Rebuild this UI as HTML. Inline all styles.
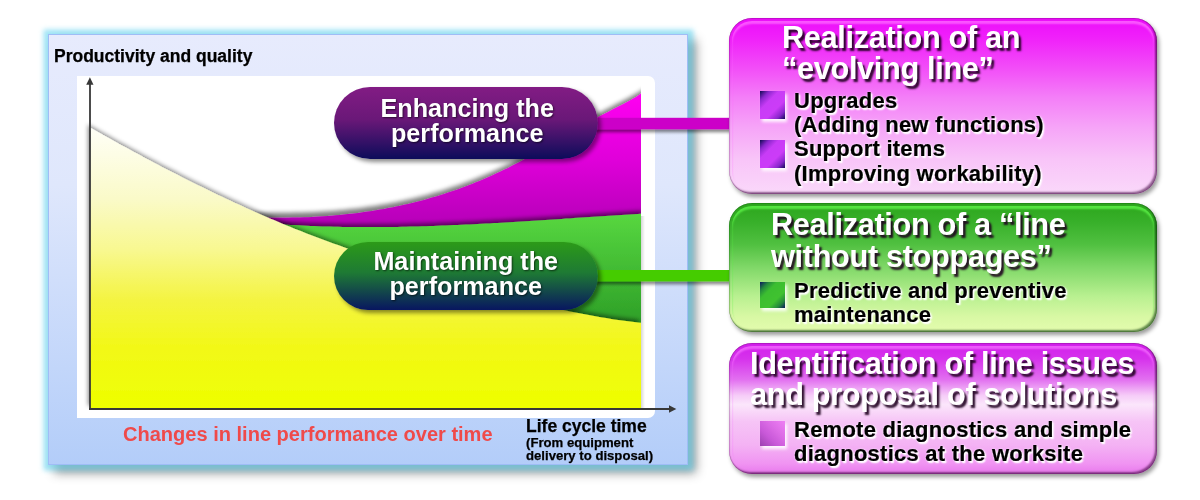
<!DOCTYPE html>
<html><head><meta charset="utf-8">
<style>
*{margin:0;padding:0;box-sizing:border-box}
html,body{width:1200px;height:500px;background:#fff;overflow:hidden}
body{position:relative;font-family:"Liberation Sans",sans-serif;font-weight:bold}
body>div{will-change:transform}
.abs{position:absolute}
#panel{left:48px;top:33.8px;width:640px;height:430.8px;border:1px solid #9fbdf6;
 background:linear-gradient(180deg,#e7ebfd 0%,#dfe7fc 35%,#b3cdf9 100%);
 box-shadow:0 0 5px 5.5px rgba(100,212,240,0.62),7px 7px 10px 1px rgba(0,0,0,0.42)}
#white{left:77px;top:75.7px;width:578px;height:342.4px;background:#fff;border-radius:0 7px 7px 0}
svg{position:absolute;left:0;top:0}
.pill{position:absolute;color:#fff;text-align:center;font-size:25.2px;line-height:25px;
 text-shadow:1px 1px 2px rgba(0,0,0,0.6);border-radius:36px;
 box-shadow:3px 3px 4px rgba(0,0,0,0.45)}
.box{position:absolute;left:728.5px;width:427.5px;border-radius:23px}
.box::after{content:"";position:absolute;left:3px;right:3px;top:3px;bottom:3px;border-radius:20px;box-shadow:inset 0 3px 2px var(--hl)}
.ttl{position:absolute;color:#fff;font-size:30.8px;line-height:30.8px;letter-spacing:-0.38px;white-space:nowrap;
 text-shadow:2.5px 2.5px 2px rgba(30,0,30,0.92)}
.itm{position:absolute;color:#000;font-size:22px;line-height:24px;letter-spacing:0.25px;white-space:nowrap;-webkit-text-stroke:0.2px #000;
 text-shadow:1.5px 1.5px 1.5px #fff,1px 1px 2.5px #fff,0 0 2px rgba(255,255,255,0.6)}
.blt{position:absolute;width:24.7px;height:27.9px;box-shadow:2px 3px 3px rgba(255,255,255,0.9)}
</style></head><body>
<div id="panel" class="abs"></div>
<div id="white" class="abs"></div>
<svg width="1200" height="500" viewBox="0 0 1200 500">
<defs>
 <linearGradient id="gy" x1="0" y1="126" x2="0" y2="408" gradientUnits="userSpaceOnUse">
  <stop offset="0" stop-color="#fffff8"/><stop offset="0.26" stop-color="#fafac8"/><stop offset="0.44" stop-color="#f8f890"/><stop offset="0.62" stop-color="#f4f440"/><stop offset="0.79" stop-color="#f2f816"/><stop offset="1" stop-color="#eeff00"/>
 </linearGradient>
 <linearGradient id="gm" x1="0" y1="93" x2="0" y2="225" gradientUnits="userSpaceOnUse">
  <stop offset="0" stop-color="#ff00f2"/><stop offset="0.5" stop-color="#e000da"/><stop offset="1" stop-color="#b600b8"/>
 </linearGradient>
 <linearGradient id="gg" x1="0" y1="212" x2="0" y2="322" gradientUnits="userSpaceOnUse">
  <stop offset="0" stop-color="#58d840"/><stop offset="1" stop-color="#2ea028"/>
 </linearGradient>
 <filter id="shM" x="-10%" y="-20%" width="120%" height="140%">
  <feGaussianBlur in="SourceAlpha" stdDeviation="2.2"/><feOffset dx="2.5" dy="-5" result="b"/>
  <feFlood flood-color="#000" flood-opacity="0.5"/><feComposite in2="b" operator="in"/>
  <feMerge><feMergeNode/><feMergeNode in="SourceGraphic"/></feMerge>
 </filter>
 <filter id="shY" x="-10%" y="-20%" width="120%" height="140%">
  <feGaussianBlur in="SourceAlpha" stdDeviation="2"/><feOffset dx="1" dy="-3.5" result="b"/>
  <feFlood flood-color="#000" flood-opacity="0.5"/><feComposite in2="b" operator="in"/>
  <feMerge><feMergeNode/><feMergeNode in="SourceGraphic"/></feMerge>
 </filter>
 <filter id="shYY" x="-10%" y="-20%" width="120%" height="140%">
  <feGaussianBlur in="SourceAlpha" stdDeviation="2"/><feOffset dx="-2.5" dy="-3.5" result="b"/>
  <feFlood flood-color="#000" flood-opacity="0.45"/><feComposite in2="b" operator="in"/>
  <feMerge><feMergeNode/><feMergeNode in="SourceGraphic"/></feMerge>
 </filter>
 <filter id="shB" x="-10%" y="-30%" width="130%" height="200%">
  <feGaussianBlur in="SourceAlpha" stdDeviation="1.5"/><feOffset dx="2" dy="3" result="b"/>
  <feFlood flood-color="#000" flood-opacity="0.45"/><feComposite in2="b" operator="in"/>
  <feMerge><feMergeNode/><feMergeNode in="SourceGraphic"/></feMerge>
 </filter>
<linearGradient id="rs" x1="0" x2="1" y1="0" y2="0"><stop offset="0" stop-color="#000" stop-opacity="0.16"/><stop offset="1" stop-color="#000" stop-opacity="0"/></linearGradient>
<clipPath id="plot"><rect x="78" y="70" width="563" height="339"/></clipPath>
</defs>
<g clip-path="url(#plot)">
<!-- magenta -->
<path filter="url(#shM)" fill="url(#gm)" d="M235,218 L255,217.9 L268.0,217.7 L272.0,217.8 L276.0,217.8 L280.0,217.8 L284.0,217.8 L288.0,217.7 L292.0,217.6 L296.0,217.6 L300.0,217.4 L304.0,217.3 L308.0,217.2 L312.0,217.0 L316.0,216.8 L320.0,216.5 L324.0,216.3 L328.0,216.0 L332.0,215.7 L336.0,215.3 L340.0,214.9 L344.0,214.5 L348.0,214.1 L352.0,213.7 L356.0,213.2 L360.0,212.7 L364.0,212.1 L368.0,211.5 L372.0,210.9 L376.0,210.3 L380.0,209.6 L384.0,208.9 L388.0,208.1 L392.0,207.4 L396.0,206.5 L400.0,205.7 L404.0,204.8 L408.0,203.9 L412.0,202.9 L416.0,201.9 L420.0,200.9 L424.0,199.9 L428.0,198.7 L432.0,197.6 L436.0,196.4 L440.0,195.2 L444.0,193.9 L448.0,192.6 L452.0,191.3 L456.0,189.9 L460.0,188.5 L464.0,187.0 L468.0,185.5 L472.0,183.9 L476.0,182.3 L480.0,180.7 L484.0,179.0 L488.0,177.2 L492.0,175.5 L496.0,173.6 L500.0,171.8 L504.0,169.8 L508.0,167.9 L512.0,165.8 L516.0,163.8 L520.0,161.7 L524.0,159.5 L528.0,157.3 L532.0,155.1 L536.0,152.8 L540.0,150.6 L544.0,148.3 L548.0,146.0 L552.0,143.6 L556.0,141.3 L560.0,139.0 L564.0,136.6 L568.0,134.3 L572.0,131.9 L576.0,129.6 L580.0,127.3 L584.0,125.0 L588.0,122.7 L592.0,120.5 L596.0,118.3 L600.0,116.1 L604.0,114.0 L608.0,111.9 L612.0,109.8 L616.0,107.8 L620.0,105.8 L624.0,103.7 L628.0,101.6 L632.0,99.3 L636.0,96.9 L640.0,94.3 L641.0,93.6 L641,330 L235,330 Z"/>
<!-- green -->
<path filter="url(#shY)" fill="url(#gg)" d="M245,223.4 L265,223.6 L278.0,224.1 L282.0,224.4 L286.0,224.6 L290.0,224.9 L294.0,225.1 L298.0,225.3 L302.0,225.5 L306.0,225.7 L310.0,225.9 L314.0,226.1 L318.0,226.2 L322.0,226.4 L326.0,226.5 L330.0,226.6 L334.0,226.7 L338.0,226.8 L342.0,226.9 L346.0,227.0 L350.0,227.0 L354.0,227.1 L358.0,227.1 L362.0,227.1 L366.0,227.1 L370.0,227.1 L374.0,227.1 L378.0,227.1 L382.0,227.1 L386.0,227.0 L390.0,227.0 L394.0,226.9 L398.0,226.9 L402.0,226.8 L406.0,226.7 L410.0,226.6 L414.0,226.5 L418.0,226.4 L422.0,226.3 L426.0,226.2 L430.0,226.1 L434.0,225.9 L438.0,225.8 L442.0,225.6 L446.0,225.5 L450.0,225.3 L454.0,225.1 L458.0,225.0 L462.0,224.8 L466.0,224.6 L470.0,224.4 L474.0,224.2 L478.0,224.0 L482.0,223.8 L486.0,223.6 L490.0,223.4 L494.0,223.1 L498.0,222.9 L502.0,222.7 L506.0,222.5 L510.0,222.2 L514.0,222.0 L518.0,221.7 L522.0,221.5 L526.0,221.2 L530.0,221.0 L534.0,220.7 L538.0,220.5 L542.0,220.2 L546.0,220.0 L550.0,219.7 L554.0,219.4 L558.0,219.2 L562.0,218.9 L566.0,218.6 L570.0,218.4 L574.0,218.1 L578.0,217.8 L582.0,217.6 L586.0,217.3 L590.0,217.0 L594.0,216.8 L598.0,216.5 L602.0,216.2 L606.0,216.0 L610.0,215.7 L614.0,215.4 L618.0,215.2 L622.0,214.9 L626.0,214.7 L630.0,214.4 L634.0,214.2 L638.0,213.9 L641.0,213.7 L641,340 L245,340 Z"/>
<!-- yellow -->
<path filter="url(#shYY)" fill="url(#gy)" d="M90.0,127.5 L94.0,129.8 L98.0,132.0 L102.0,134.3 L106.0,136.5 L110.0,138.8 L114.0,141.0 L118.0,143.2 L122.0,145.4 L126.0,147.6 L130.0,149.8 L134.0,152.0 L138.0,154.1 L142.0,156.3 L146.0,158.4 L150.0,160.5 L154.0,162.7 L158.0,164.8 L162.0,166.9 L166.0,168.9 L170.0,171.0 L174.0,173.1 L178.0,175.1 L182.0,177.2 L186.0,179.2 L190.0,181.2 L194.0,183.2 L198.0,185.2 L202.0,187.1 L206.0,189.1 L210.0,191.0 L214.0,193.0 L218.0,194.9 L222.0,196.8 L226.0,198.7 L230.0,200.5 L234.0,202.4 L238.0,204.2 L242.0,206.1 L246.0,207.9 L250.0,209.7 L254.0,211.5 L258.0,213.2 L262.0,215.0 L266.0,216.7 L270.0,218.4 L274.0,220.1 L278.0,221.8 L282.0,223.5 L286.0,225.2 L290.0,226.8 L294.0,228.4 L298.0,230.0 L302.0,231.6 L306.0,233.2 L310.0,234.7 L314.0,236.3 L318.0,237.8 L322.0,239.3 L326.0,240.8 L330.0,242.2 L334.0,243.7 L338.0,245.1 L342.0,246.5 L346.0,247.9 L350.0,249.3 L354.0,250.7 L358.0,252.1 L362.0,253.4 L366.0,254.8 L370.0,256.1 L374.0,257.4 L378.0,258.8 L382.0,260.1 L386.0,261.3 L390.0,262.6 L394.0,263.9 L398.0,265.2 L402.0,266.4 L406.0,267.7 L410.0,268.9 L414.0,270.1 L418.0,271.3 L422.0,272.6 L426.0,273.8 L430.0,275.0 L434.0,276.2 L438.0,277.3 L442.0,278.5 L446.0,279.7 L450.0,280.8 L454.0,282.0 L458.0,283.1 L462.0,284.3 L466.0,285.4 L470.0,286.5 L474.0,287.6 L478.0,288.7 L482.0,289.8 L486.0,290.9 L490.0,292.0 L494.0,293.1 L498.0,294.1 L502.0,295.2 L506.0,296.2 L510.0,297.3 L514.0,298.3 L518.0,299.3 L522.0,300.3 L526.0,301.3 L530.0,302.3 L534.0,303.3 L538.0,304.2 L542.0,305.2 L546.0,306.1 L550.0,307.0 L554.0,307.9 L558.0,308.8 L562.0,309.7 L566.0,310.6 L570.0,311.4 L574.0,312.2 L578.0,313.0 L582.0,313.8 L586.0,314.6 L590.0,315.3 L594.0,316.1 L598.0,316.8 L602.0,317.4 L606.0,318.1 L610.0,318.7 L614.0,319.4 L618.0,319.9 L622.0,320.5 L626.0,321.0 L630.0,321.6 L634.0,322.0 L638.0,322.5 L641.0,322.8 L641,408.5 L90,408.5 Z"/>
</g>
<rect x="641" y="216" width="4" height="192" fill="url(#rs)"/>
<!-- axes -->
<g stroke="#383838" stroke-width="1.8" fill="none">
 <line x1="90" y1="83" x2="90" y2="409.9"/>
 <line x1="89.1" y1="409" x2="670" y2="409"/>
</g>
<path d="M89.9,77.3 L86.2,84.8 L93.5,84.8 Z" fill="#383838"/>
<path d="M676.3,409 L669,405.2 L669,412.8 Z" fill="#383838"/>
<!-- connector bars -->
<rect filter="url(#shB)" x="590" y="117.8" width="139" height="11.5" fill="#cc00c8"/>
<rect filter="url(#shB)" x="590" y="270" width="139" height="11.4" fill="#44cc00"/>
</svg>

<div class="pill" style="left:333.5px;top:87px;width:263.5px;height:72px;padding-top:8.7px;padding-left:3px;background:linear-gradient(180deg,#821c84 0%,#6a1878 45%,#0c0c5a 100%)">Enhancing the<br>performance</div>
<div class="pill" style="left:333.5px;top:242px;width:263.5px;height:68px;padding-top:7px;line-height:25.3px;background:linear-gradient(180deg,#2c9a18 0%,#1e7a34 45%,#081660 100%)">Maintaining the<br>performance</div>

<div class="abs" style="left:53.8px;top:47.5px;font-size:17.5px;line-height:17.5px;color:#000;-webkit-text-stroke:0.25px #000">Productivity and quality</div>
<div class="abs" style="left:123.3px;top:423.6px;font-size:20.05px;line-height:20.2px;color:#ef4a4a">Changes in line performance over time</div>
<div class="abs" style="left:526px;top:417.7px;font-size:17.5px;line-height:17.5px;color:#000;-webkit-text-stroke:0.25px #000">Life cycle time</div>
<div class="abs" style="left:526px;top:435.8px;font-size:13.15px;line-height:13.2px;color:#000;-webkit-text-stroke:0.25px #000">(From equipment<br>delivery to disposal)</div>

<!-- box 1 -->
<div class="box" style="--hl:rgba(255,110,255,0.75);top:17.8px;height:176.4px;background:linear-gradient(180deg,#ec0cfa 0%,#f022fa 12%,#f24cf8 28%,#f47ef8 45%,#f6a4f8 62%,#f8c4f8 80%,#fad8fa 100%);box-shadow:inset -2px -2px 2px rgba(60,0,60,0.55),inset 0 0 1px 0.5px rgba(80,0,80,0.5),2px 3px 4px rgba(0,0,0,0.4)"></div>
<div class="ttl" style="left:782.2px;top:22.6px;line-height:30.9px">Realization of an<br>“evolving line”</div>
<div class="blt" style="left:759.9px;top:90.9px;background:linear-gradient(135deg,#0c0850 0%,#8a26cc 18%,#c83cf6 36%,#cc3cf8 64%,#8a26cc 84%,#100858 100%)"></div>
<div class="blt" style="left:759.9px;top:139.7px;height:28.1px;background:linear-gradient(135deg,#0c0850 0%,#8a26cc 18%,#c83cf6 36%,#cc3cf8 64%,#8a26cc 84%,#100858 100%)"></div>
<div class="itm" style="left:793.6px;top:88.5px;line-height:24.2px">Upgrades<br>(Adding new functions)<br>Support items<br>(Improving workability)</div>

<!-- box 2 -->
<div class="box" style="--hl:rgba(90,240,70,0.85);top:202.8px;height:129.4px;background:linear-gradient(180deg,#2ca61c 0%,#38b02a 15%,#50c040 32%,#80d868 50%,#b8f090 72%,#d8f8a4 88%,#e4fcae 100%);box-shadow:inset -2px -2px 2px rgba(0,50,0,0.55),inset 0 0 1px 0.5px rgba(0,60,0,0.5),2px 3px 4px rgba(0,0,0,0.4)"></div>
<div class="ttl" style="left:770.9px;top:209.2px;line-height:32px">Realization of a “line<br>without stoppages”</div>
<div class="blt" style="left:760px;top:282px;height:25.8px;background:linear-gradient(135deg,#0a1660 0%,#248a3c 18%,#3cbe30 34%,#40c230 66%,#248a3c 84%,#0a1660 100%)"></div>
<div class="itm" style="left:793.6px;top:278.9px;line-height:23.7px">Predictive and preventive<br>maintenance</div>

<!-- box 3 -->
<div class="box" style="--hl:rgba(245,110,255,0.75);top:343.2px;height:131px;background:linear-gradient(180deg,#d21eec 0%,#d632ec 12%,#e270f0 28%,#f6ccf8 40%,#fbe6fb 47%,#f6c4f6 60%,#f4b2f4 78%,#f094f2 92%,#e878ec 100%);box-shadow:inset -2px -2px 2px rgba(60,0,60,0.55),inset 0 0 1px 0.5px rgba(80,0,80,0.5),2px 3px 4px rgba(0,0,0,0.4)"></div>
<div class="ttl" style="left:750.2px;top:349.1px;line-height:30.6px">Identification of line issues<br>and proposal of solutions</div>
<div class="blt" style="left:759.9px;top:420.9px;height:25.1px;background:linear-gradient(45deg,#9c40b0 0%,#c858d8 35%,#dc6ce6 65%,#ee80f4 100%)"></div>
<div class="itm" style="left:793.6px;top:417.8px;line-height:23.6px">Remote diagnostics and simple<br>diagnostics at the worksite</div>
</body></html>
